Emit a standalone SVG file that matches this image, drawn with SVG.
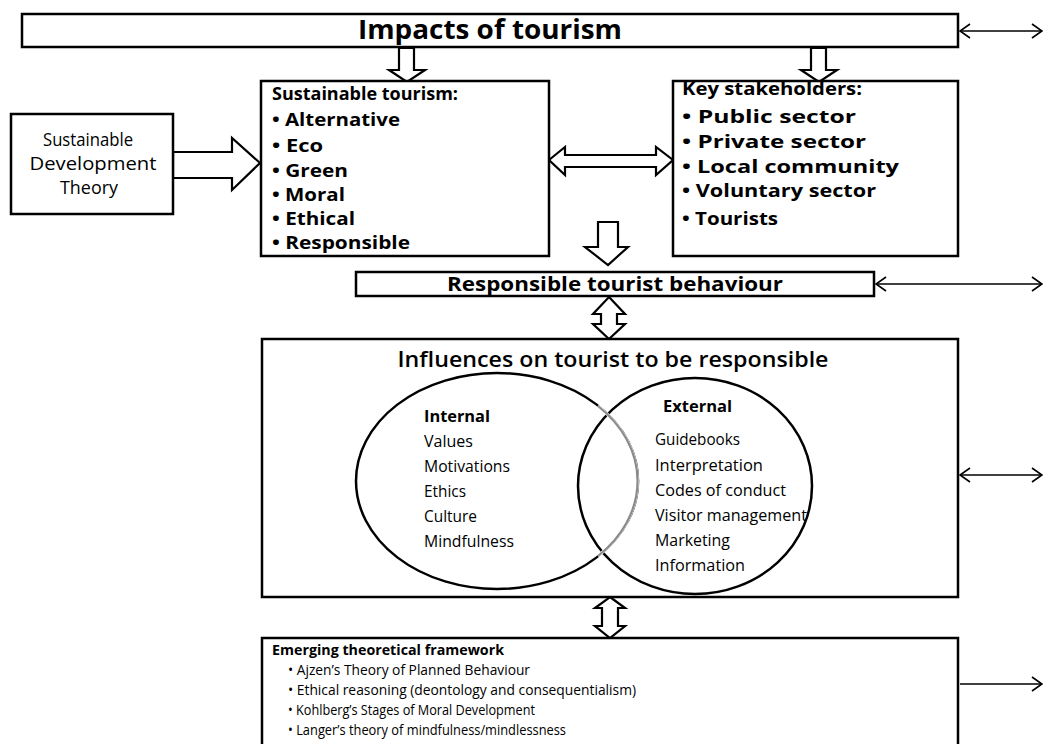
<svg xmlns="http://www.w3.org/2000/svg" width="1044" height="744" viewBox="0 0 1044 744">
  <defs>
    <marker id="vhead" viewBox="0 0 12 16" refX="11" refY="8" markerWidth="12" markerHeight="16" markerUnits="userSpaceOnUse" orient="auto-start-reverse">
      <path d="M1,1 L11,8 L1,15" fill="none" stroke="#000" stroke-width="1.6"/>
    </marker>
  </defs>
  <style>
    .box { fill: #fff; stroke: #000; stroke-width: 2.5; }
    .block { fill: #fff; stroke: #000; stroke-width: 2.2; stroke-linejoin: miter; }
    .link { fill: none; stroke: #000; stroke-width: 1.6; }
    text { font-family: "Open Sans", "Liberation Sans", sans-serif; fill: #000; }
    .title { font-size: 26px; font-weight: 700; }
    .head { font-size: 18px; font-weight: 700; }
    .item { font-size: 18.5px; font-weight: 700; }
    .plain { font-size: 19px; }
    .venn { font-size: 15.5px; }
    .vennhead { font-size: 16px; font-weight: 700; }
    .sub { font-size: 15px; font-weight: 700; }
    .list { font-size: 14.5px; }
  </style>
  <rect width="1044" height="744" fill="#fff"/>

  <!-- side links running off the right edge -->
  <g id="connectors">
    <line class="link" x1="960" y1="31" x2="1042" y2="31" marker-start="url(#vhead)" marker-end="url(#vhead)"/>
    <line class="link" x1="876" y1="284" x2="1042" y2="284" marker-start="url(#vhead)" marker-end="url(#vhead)"/>
    <line class="link" x1="960" y1="475" x2="1042" y2="475" marker-start="url(#vhead)" marker-end="url(#vhead)"/>
    <line class="link" x1="960" y1="684" x2="1042" y2="684" marker-end="url(#vhead)"/>

    <!-- block arrows -->
    <polygon class="block" points="399,48 414,48 414,70 425,70 407,82 389,70 399,70"/>
    <polygon class="block" points="811,48 826,48 826,70 837,70 819,82 801,70 811,70"/>
    <polygon class="block" points="173,152 232,152 232,138 260,163 232,190 232,178 173,178"/>
    <polygon class="block" points="549,160 565,147 565,155 656,155 656,147 673,160 656,175 656,167 565,167 565,175"/>
    <polygon class="block" points="598,222 618,222 618,247 628,247 608,265 585,247 598,247"/>
    <polygon class="block" points="609,297 625,314 617,314 617,324 625,324 609,339 593,324 601,324 601,314 593,314"/>
    <polygon class="block" points="610,597 625,608 618,608 618,626 625,626 610,638 595,626 602,626 602,608 595,608"/>
  </g>

  <g id="impacts">
    <rect class="box" x="22" y="14" width="936" height="33"/>
    <text class="title" x="490" y="39" text-anchor="middle" textLength="264" lengthAdjust="spacingAndGlyphs">Impacts of tourism</text>
  </g>

  <g id="sdt">
    <rect class="box" x="11" y="114" width="162" height="100"/>
    <text class="plain" x="88" y="146" text-anchor="middle" textLength="90" lengthAdjust="spacingAndGlyphs">Sustainable</text>
    <text class="plain" x="93" y="170" text-anchor="middle" textLength="127" lengthAdjust="spacingAndGlyphs">Development</text>
    <text class="plain" x="89" y="194" text-anchor="middle" textLength="58" lengthAdjust="spacingAndGlyphs">Theory</text>
  </g>

  <g id="sustainable-tourism">
    <rect class="box" x="261" y="81" width="288" height="175"/>
    <text class="head" x="272" y="100" textLength="186" lengthAdjust="spacingAndGlyphs">Sustainable tourism:</text>
    <text class="item" x="272" y="126" textLength="128" lengthAdjust="spacingAndGlyphs">• Alternative</text>
    <text class="item" x="272" y="152" textLength="51" lengthAdjust="spacingAndGlyphs">• Eco</text>
    <text class="item" x="272" y="177" textLength="76" lengthAdjust="spacingAndGlyphs">• Green</text>
    <text class="item" x="272" y="201" textLength="73" lengthAdjust="spacingAndGlyphs">• Moral</text>
    <text class="item" x="272" y="225" textLength="83" lengthAdjust="spacingAndGlyphs">• Ethical</text>
    <text class="item" x="272" y="249" textLength="138" lengthAdjust="spacingAndGlyphs">• Responsible</text>
  </g>

  <g id="stakeholders">
    <rect class="box" x="673" y="81" width="285" height="175"/>
    <text class="head" x="682" y="95" textLength="180" lengthAdjust="spacingAndGlyphs">Key stakeholders:</text>
    <text class="item" x="682" y="123" textLength="174" lengthAdjust="spacingAndGlyphs">• Public sector</text>
    <text class="item" x="682" y="148" textLength="184" lengthAdjust="spacingAndGlyphs">• Private sector</text>
    <text class="item" x="682" y="173" textLength="217" lengthAdjust="spacingAndGlyphs">• Local community</text>
    <text class="item" x="682" y="197" textLength="194" lengthAdjust="spacingAndGlyphs">• Voluntary sector</text>
    <text class="item" x="682" y="225" textLength="96" lengthAdjust="spacingAndGlyphs">• Tourists</text>
  </g>

  <g id="behaviour">
    <rect class="box" x="356" y="272" width="518" height="24"/>
    <text x="615" y="291" text-anchor="middle" font-size="19.5" font-weight="700" textLength="336" lengthAdjust="spacingAndGlyphs">Responsible tourist behaviour</text>
  </g>

  <g id="influences">
    <rect class="box" x="262" y="339" width="696" height="258"/>
    <text x="613" y="367" text-anchor="middle" font-size="21" font-weight="600" textLength="431" lengthAdjust="spacingAndGlyphs">Influences on tourist to be responsible</text>
    <!-- internal circle: its arc inside the external circle is drawn grey -->
    <ellipse cx="497" cy="481" rx="141" ry="108" fill="none" stroke="#000" stroke-width="2.5"/>
    <ellipse cx="695" cy="486" rx="117" ry="108" fill="none" stroke="#000" stroke-width="2.5"/>
    <path d="M598,406 A141,108 0 0 1 598,556" fill="none" stroke="#fff" stroke-width="3"/>
    <path d="M598,406 A141,108 0 0 1 598,556" fill="none" stroke="#8a8a8a" stroke-width="2.2"/>
    <text class="vennhead" x="424" y="422" textLength="66" lengthAdjust="spacingAndGlyphs">Internal</text>
    <text class="venn" x="424" y="447" textLength="49" lengthAdjust="spacingAndGlyphs">Values</text>
    <text class="venn" x="424" y="472" textLength="86" lengthAdjust="spacingAndGlyphs">Motivations</text>
    <text class="venn" x="424" y="497" textLength="42" lengthAdjust="spacingAndGlyphs">Ethics</text>
    <text class="venn" x="424" y="522" textLength="53" lengthAdjust="spacingAndGlyphs">Culture</text>
    <text class="venn" x="424" y="547" textLength="90" lengthAdjust="spacingAndGlyphs">Mindfulness</text>
    <text class="vennhead" x="663" y="412" textLength="69" lengthAdjust="spacingAndGlyphs">External</text>
    <text class="venn" x="655" y="445" textLength="85" lengthAdjust="spacingAndGlyphs">Guidebooks</text>
    <text class="venn" x="655" y="471" textLength="108" lengthAdjust="spacingAndGlyphs">Interpretation</text>
    <text class="venn" x="655" y="496" textLength="131" lengthAdjust="spacingAndGlyphs">Codes of conduct</text>
    <text class="venn" x="655" y="521" textLength="152" lengthAdjust="spacingAndGlyphs">Visitor management</text>
    <text class="venn" x="655" y="546" textLength="75" lengthAdjust="spacingAndGlyphs">Marketing</text>
    <text class="venn" x="655" y="571" textLength="90" lengthAdjust="spacingAndGlyphs">Information</text>
  </g>

  <g id="framework">
    <rect class="box" x="262" y="638" width="696" height="130"/>
    <text class="sub" x="272" y="655" textLength="232" lengthAdjust="spacingAndGlyphs">Emerging theoretical framework</text>
    <text class="list" x="288" y="675" textLength="242" lengthAdjust="spacingAndGlyphs">• Ajzen’s Theory of Planned Behaviour</text>
    <text class="list" x="288" y="695" textLength="348" lengthAdjust="spacingAndGlyphs">• Ethical reasoning (deontology and consequentialism)</text>
    <text class="list" x="288" y="715" textLength="247" lengthAdjust="spacingAndGlyphs">• Kohlberg’s Stages of Moral Development</text>
    <text class="list" x="288" y="735" textLength="278" lengthAdjust="spacingAndGlyphs">• Langer’s theory of mindfulness/mindlessness</text>
  </g>
</svg>
